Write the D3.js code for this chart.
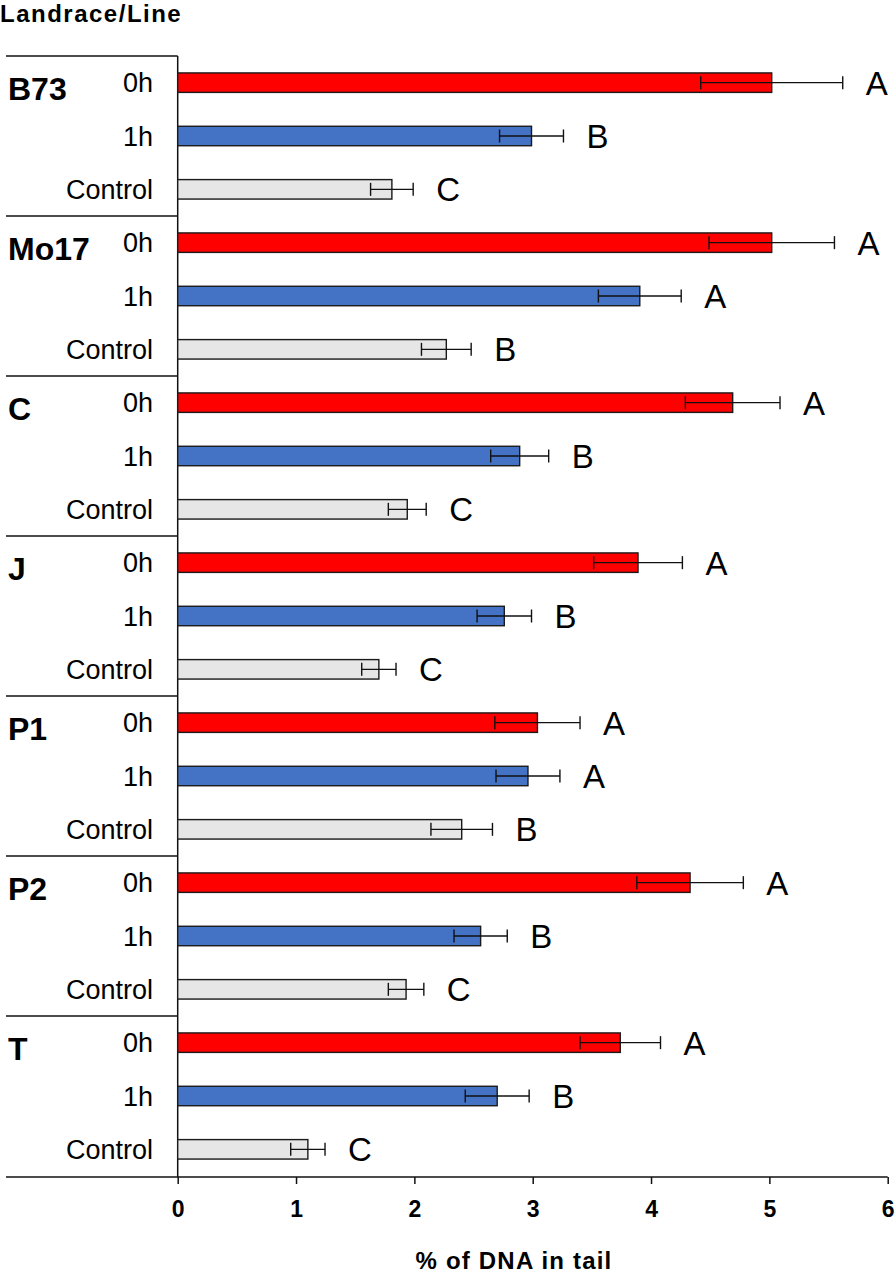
<!DOCTYPE html>
<html>
<head>
<meta charset="utf-8">
<script src="https://cdn.jsdelivr.net/npm/d3@7"></script>
<style>
  html, body { margin: 0; padding: 0; background: #fff; }
  svg { display: block; font-family: "Liberation Sans", Arial, Helvetica, sans-serif; }
</style>
</head>
<body>
<svg id="chart" width="896" height="1273"></svg>
<script>
const lines = ["B73", "Mo17", "C", "J", "P1", "P2", "T"];
const treatments = ["0h", "1h", "Control"];
const mean0h = [5.02, 5.02, 4.69, 3.89, 3.04, 4.33, 3.74];
const sd0h = [0.60, 0.53, 0.40, 0.375, 0.36, 0.45, 0.34];
const mean1h = [2.99, 3.905, 2.89, 2.76, 2.96, 2.56, 2.70];
const sd1h = [0.27, 0.35, 0.245, 0.23, 0.27, 0.225, 0.27];
const meanControl = [1.81, 2.27, 1.94, 1.70, 2.40, 1.93, 1.10];
const sdControl = [0.18, 0.21, 0.16, 0.145, 0.26, 0.15, 0.145];
const letters0h = ["A", "A", "A", "A", "A", "A", "A"];
const letters1h = ["B", "A", "B", "B", "A", "B", "B"];
const lettersControl = ["C", "B", "C", "C", "B", "C", "C"];
const xTicks = [0, 1, 2, 3, 4, 5, 6];
const xTitle = "% of DNA in tail";
const yTitle = "Landrace/Line";

const colors = { "0h": "#ff0000", "1h": "#4472c4", "Control": "#e6e6e6" };

const means = { "0h": mean0h, "1h": mean1h, "Control": meanControl };
const sds = { "0h": sd0h, "1h": sd1h, "Control": sdControl };
const letters = { "0h": letters0h, "1h": letters1h, "Control": lettersControl };

const rows = [];
lines.forEach((g, i) => {
  treatments.forEach(t => {
    rows.push({ group: g, treat: t, mean: means[t][i], sd: sds[t][i], letter: letters[t][i] });
  });
});

const svg = d3.select("#chart");
const axisY = 1177;
const leftEdge = 6;

const x = d3.scaleLinear().domain([0, 6]).range([177.7, 887.7]);
const yGroup = d3.scaleBand().domain(lines).range([56, 1176]);
const yTreat = d3.scaleBand().domain(treatments).range([0, yGroup.bandwidth()])
  .paddingInner(0.635).paddingOuter(0.3175);

// group separator lines
svg.append("g").selectAll("line").data(lines).join("line")
  .attr("x1", leftEdge).attr("x2", x(0))
  .attr("y1", d => yGroup(d)).attr("y2", d => yGroup(d))
  .attr("stroke", "#111").attr("stroke-width", 1.5);

// vertical axis line
svg.append("line")
  .attr("x1", x(0)).attr("x2", x(0))
  .attr("y1", yGroup(lines[0])).attr("y2", axisY)
  .attr("stroke", "#111").attr("stroke-width", 1.5);

// bottom axis
const xAxis = d3.axisBottom(x).tickValues(xTicks).tickSize(7).tickPadding(17).tickFormat(d3.format("d"));
const ax = svg.append("g").attr("transform", `translate(0,${axisY})`).call(xAxis);
ax.attr("font-size", null).attr("font-family", null);
ax.select(".domain").remove();
ax.selectAll(".tick line").attr("stroke", "#111").attr("stroke-width", 1.5);
ax.selectAll(".tick text")
  .attr("fill", "#000")
  .attr("font-size", 23).attr("font-weight", "bold");
svg.append("line")
  .attr("x1", leftEdge).attr("x2", x(6))
  .attr("y1", axisY).attr("y2", axisY)
  .attr("stroke", "#111").attr("stroke-width", 1.5);

// bars
const barY = d => yGroup(d.group) + yTreat(d.treat);
svg.append("g").selectAll("rect").data(rows).join("rect")
  .attr("x", x(0))
  .attr("y", barY)
  .attr("width", d => x(d.mean) - x(0))
  .attr("height", yTreat.bandwidth())
  .attr("fill", d => colors[d.treat])
  .attr("stroke", "#1a1a1a").attr("stroke-width", 1.4);

// error bars
const cy = d => barY(d) + yTreat.bandwidth() / 2;
const eb = svg.append("g").attr("stroke", "#111").attr("stroke-width", 1.4);
eb.selectAll("line.h").data(rows).join("line").attr("class", "h")
  .attr("x1", d => x(d.mean - d.sd)).attr("x2", d => x(d.mean + d.sd))
  .attr("y1", cy).attr("y2", cy);
eb.selectAll("line.l").data(rows).join("line").attr("class", "l")
  .attr("x1", d => x(d.mean - d.sd)).attr("x2", d => x(d.mean - d.sd))
  .attr("y1", d => cy(d) - 6.5).attr("y2", d => cy(d) + 6.5);
eb.selectAll("line.r").data(rows).join("line").attr("class", "r")
  .attr("x1", d => x(d.mean + d.sd)).attr("x2", d => x(d.mean + d.sd))
  .attr("y1", d => cy(d) - 6.5).attr("y2", d => cy(d) + 6.5);

// significance letters
svg.append("g").selectAll("text").data(rows).join("text")
  .attr("x", d => x(d.mean + d.sd) + 23)
  .attr("y", d => cy(d) + 12)
  .attr("font-size", 33)
  .attr("fill", "#000")
  .text(d => d.letter);

// treatment labels
svg.append("g").selectAll("text").data(rows).join("text")
  .attr("x", 153)
  .attr("y", d => cy(d) + 9.5)
  .attr("text-anchor", "end")
  .attr("font-size", 27)
  .attr("fill", "#000")
  .text(d => d.treat);

// group labels
svg.append("g").selectAll("text").data(lines).join("text")
  .attr("x", 8)
  .attr("y", d => yGroup(d) + yTreat(treatments[0]) + yTreat.bandwidth() / 2 + 17)
  .attr("font-size", 32).attr("font-weight", "bold")
  .attr("fill", "#000")
  .text(d => d);

// titles
svg.append("text")
  .attr("x", 0).attr("y", 22)
  .attr("font-size", 24).attr("font-weight", "bold")
  .attr("letter-spacing", 1.5)
  .attr("fill", "#000")
  .text(yTitle);

svg.append("text")
  .attr("x", 514).attr("y", 1269)
  .attr("text-anchor", "middle")
  .attr("font-size", 24).attr("font-weight", "bold")
  .attr("letter-spacing", 1.2)
  .attr("fill", "#000")
  .text(xTitle);
</script>
</body>
</html>
